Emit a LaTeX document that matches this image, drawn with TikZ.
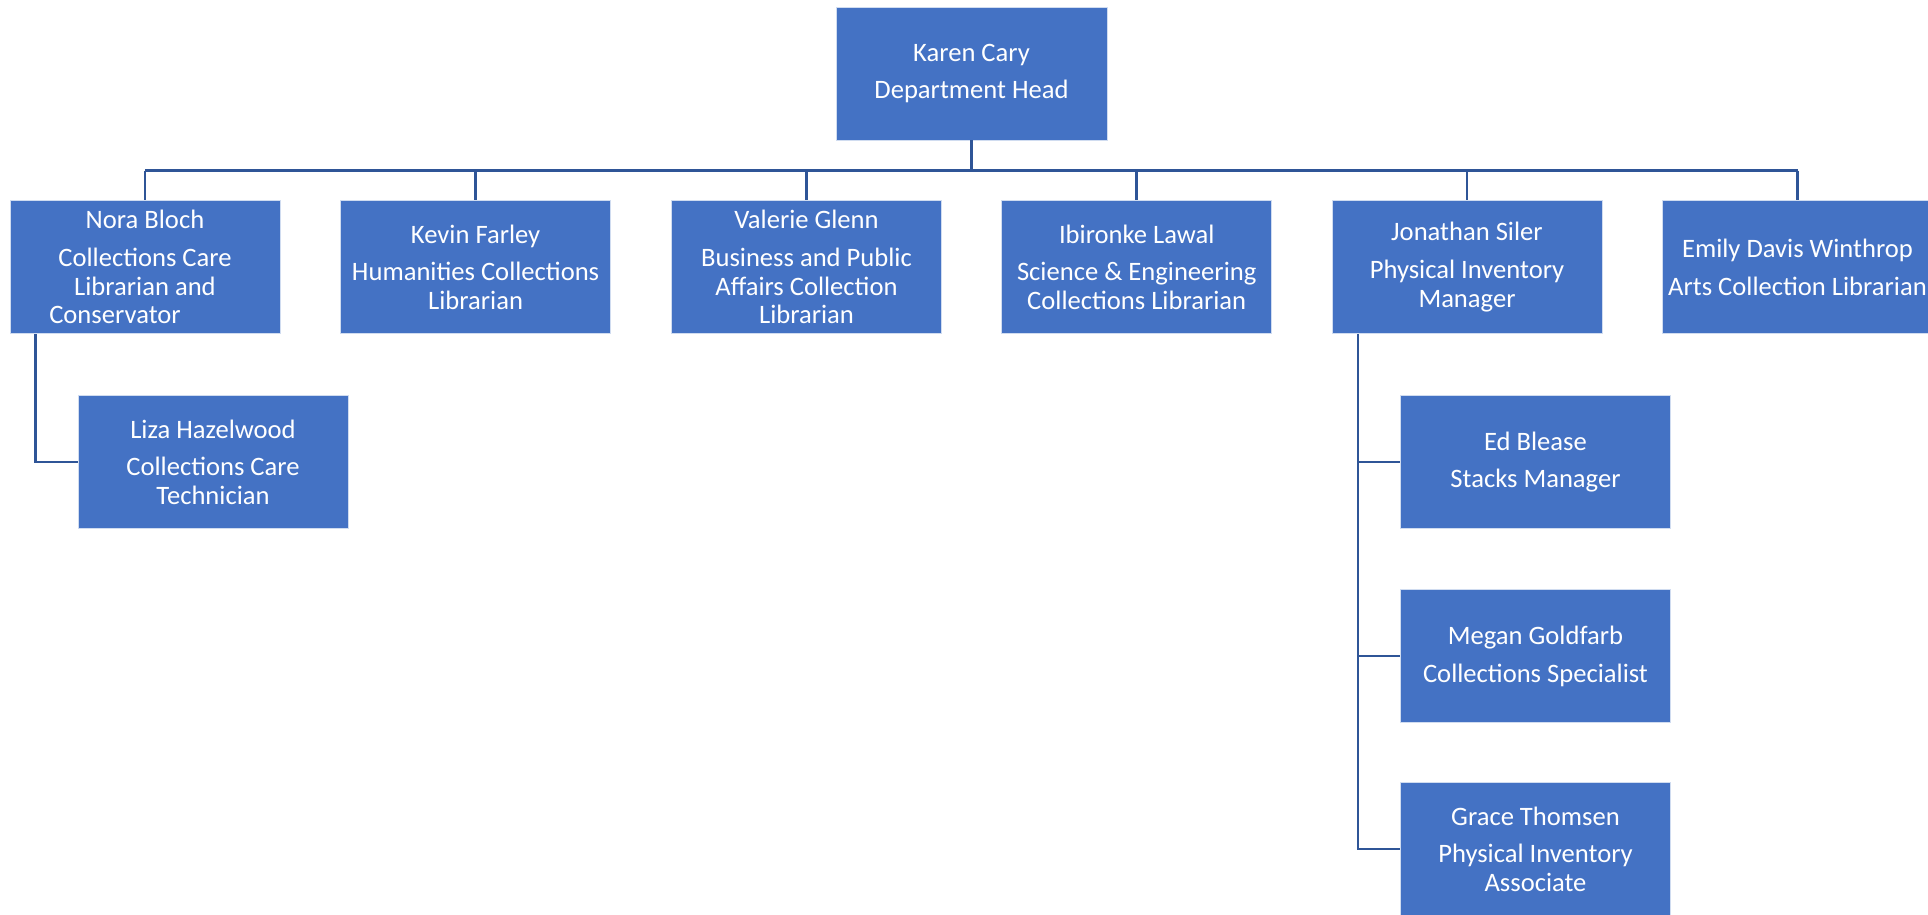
\documentclass[tikz,border=0pt]{standalone}
\usepackage{fontspec}
\setmainfont{Carlito}
\definecolor{boxblue}{HTML}{4472C4}
\definecolor{linkblue}{HTML}{2F5597}
\begin{document}
\begin{tikzpicture}[x=1pt,y=-1pt,
  orgbox/.style={rectangle, fill=boxblue, draw=white!75!boxblue, line width=0.8pt,
    minimum width=270pt, minimum height=133pt, inner sep=0pt, align=center,
    text=white, font=\fontsize{26.6}{28.3}\selectfont},
  link/.style={draw=linkblue, line width=2.6pt}]
\useasboundingbox (0,0) rectangle (1928,914);
\clip (0,0) rectangle (1928,914);
\fill[white] (0,0) rectangle (1928,914);

\node[orgbox, minimum width=271pt] (karen) at (971.5,73.5) {Karen Cary\\[9.5pt]Department Head};

\node[orgbox] (nora) at (145,267) {Nora Bloch\\[9.5pt]Collections Care\\Librarian and\\Conservator\rule{60pt}{0pt}};
\node[orgbox] (kevin) at (475.6,267) {Kevin Farley\\[9.5pt]Humanities Collections\\Librarian};
\node[orgbox] (valerie) at (806.5,267) {Valerie Glenn\\[9.5pt]Business and Public\\Affairs Collection\\Librarian};
\node[orgbox] (ibironke) at (1136.7,267) {Ibironke Lawal\\[9.5pt]Science \& Engineering\\Collections Librarian};
\node[orgbox] (jonathan) at (1467,267) {Jonathan Siler\\[9.5pt]Physical Inventory\\Manager};
\node[orgbox] (emily) at (1797.5,267) {Emily Davis Winthrop\\[9.5pt]Arts Collection Librarian};

\node[orgbox] (liza) at (213,462) {Liza Hazelwood\\[9.5pt]Collections Care\\Technician};

\node[orgbox] (ed) at (1535.5,462) {Ed Blease\\[9.5pt]Stacks Manager};
\node[orgbox] (megan) at (1535.5,656) {Megan Goldfarb\\[9.5pt]Collections Specialist};
\node[orgbox] (grace) at (1535.5,849) {Grace Thomsen\\[9.5pt]Physical Inventory\\Associate};

% top-level connectors
\coordinate (bar) at (971.5,170.5);
\draw[link] (karen.south) -- (bar);
\draw[link] (nora.north |- bar) -- (emily.north |- bar);
\foreach \n in {nora,kevin,valerie,ibironke,jonathan,emily}
  \draw[link] (\n.north |- bar) -- (\n.north);

% Nora -> Liza
\coordinate (nl) at (35.7,334);
\draw[link] (nl) |- (liza.west);

% Jonathan -> children
\coordinate (jl) at (1358,334);
\draw[link] (jl) |- (grace.west);
\draw[link] (jl |- ed.west) -- (ed.west);
\draw[link] (jl |- megan.west) -- (megan.west);
\end{tikzpicture}
\end{document}
